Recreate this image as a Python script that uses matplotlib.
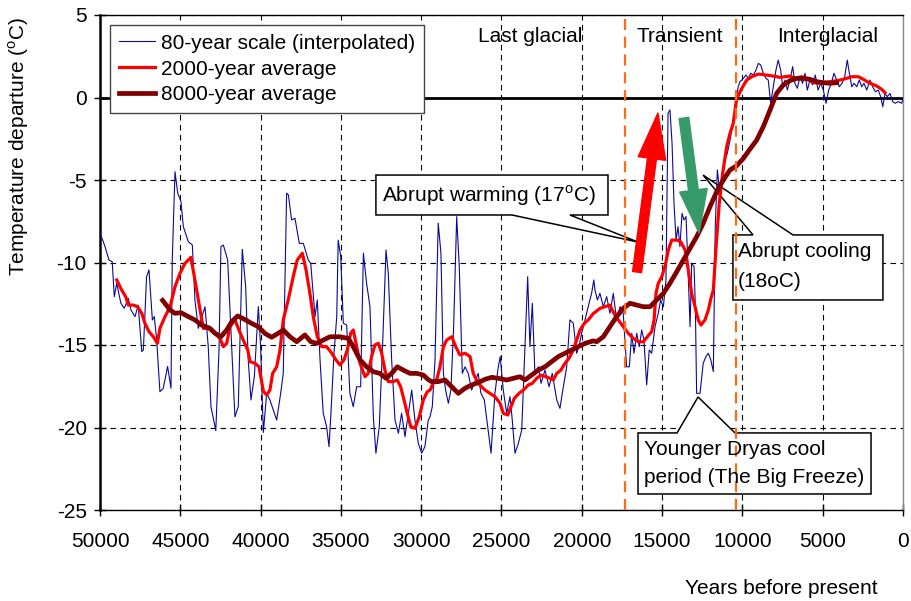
import matplotlib
matplotlib.use('Agg')
import matplotlib.pyplot as plt
from matplotlib.patches import Polygon

plt.rcParams['font.family'] = ['Liberation Sans', 'DejaVu Sans']
plt.rcParams['mathtext.fontset'] = 'custom'
plt.rcParams['mathtext.rm'] = 'Liberation Sans'

FS = 15

# 80-year scale record (years before present, temperature departure)
blue_years = [50000, 49700, 49440, 49240, 49110, 48960, 48700, 48490, 48240, 48070,
              47820, 47620, 47400, 47300, 47100, 46950, 46740, 46620, 46470, 46270,
              46060, 45790, 45580, 45500, 45330, 45160, 44960, 44810, 44500, 44250,
              44090, 43880, 43460, 43260, 43090, 42790, 42590, 42470, 42320, 42050,
              41800, 41600, 41390, 41140, 40930, 40770, 40600, 40390, 40140, 40000,
              39830, 39620, 39420, 39210, 39000, 38750, 38590, 38380, 38270, 38070,
              37860, 37590, 37340, 37030, 36880, 36610, 36470, 36300, 36100, 35890,
              35740, 35620, 35430, 35260, 35170, 35010, 34850, 34640, 34440, 34230,
              34020, 33770, 33600, 33400, 33190, 32980, 32820, 32610, 32400, 32190,
              32050, 31840, 31630, 31420, 31220, 31010, 30800, 30590, 30390, 30180,
              29970, 29770, 29560, 29450, 29310, 29140, 28940, 28770, 28620, 28480,
              28310, 28150, 27980, 27790, 27630, 27440, 27270, 27070, 26860, 26610,
              26450, 26280, 26070, 25860, 25650, 25410, 25200, 25080, 24890, 24680,
              24470, 24330, 24160, 23950, 23740, 23540, 23370, 23230, 23080, 22920,
              22710, 22540, 22290, 22040, 21840, 21560, 21360, 21150, 20940, 20740,
              20530, 20320, 20180, 20010, 19800, 19550, 19390, 19250, 19180, 19030,
              18870, 18660, 18450, 18250, 18040, 17830, 17620, 17420, 17210, 17040,
              16890, 16750, 16580, 16420, 16270, 16130, 15960, 15800, 15650, 15440,
              15240, 15090, 14920, 14760, 14630, 14510, 14380, 14260, 14130, 14010,
              13890, 13760, 13640, 13510, 13390, 13260, 13160, 13010, 12930, 12850,
              12640, 12440, 12270, 12120, 11970, 11810, 11690, 11560, 11400, 11270,
              11080, 10940, 10770, 10570, 10400, 10260, 10150, 9940, 9780, 9630,
              9480, 9320, 9150, 9010, 8860, 8700, 8530, 8390, 8240, 8080,
              7910, 7770, 7620, 7490, 7350, 7200, 7040, 6870, 6730, 6580,
              6410, 6250, 6100, 5960, 5790, 5620, 5460, 5290, 5120, 4960,
              4790, 4630, 4460, 4300, 4130, 3970, 3800, 3630, 3470, 3340,
              3190, 3050, 2880, 2720, 2570, 2430, 2260, 2050, 1890, 1720,
              1540, 1390, 1260, 1120, 980, 810, 640, 500, 290, 80, 0]
blue_temps = [-8.2, -9.0, -9.85, -9.95, -12.07, -11.26, -12.47, -12.78, -12.17, -12.88,
              -13.28, -12.58, -15.4, -15.3, -10.86, -10.45, -13.48, -13.28, -14.7, -17.83,
              -17.62, -16.3, -17.62, -9.85, -4.5, -5.8, -6.3, -7.83, -8.74, -8.94,
              -12.27, -13.99, -12.68, -15.1, -18.74, -20.19, -15.3, -9.04, -8.94, -9.85,
              -15.1, -19.35, -18.74, -9.2, -11.47, -15.9, -18.33, -16.92, -12.68, -15.1,
              -20.3, -17.93, -18.33, -18.94, -19.55, -17.93, -16.72, -5.8, -5.9, -7.42,
              -7.32, -8.84, -8.84, -9.85, -10.05, -13.28, -12.27, -15.9, -19.14, -19.95,
              -21.16, -19.14, -15.5, -13.28, -8.64, -9.65, -13.68, -13.79, -17.93, -18.74,
              -17.53, -17.53, -9.44, -11.26, -12.68, -19.35, -21.56, -19.95, -14.9, -9.24,
              -10.65, -15.9, -19.55, -20.35, -19.14, -20.56, -19.14, -17.73, -19.55, -20.96,
              -21.56, -21.16, -19.55, -19.35, -18.74, -15.9, -7.62, -9.44, -16.72, -17.73,
              -18.53, -17.73, -13.89, -7.22, -10.25, -16.72, -16.32, -16.72, -17.73, -17.12,
              -16.72, -17.93, -18.33, -19.95, -21.56, -17.93, -16.32, -15.7, -17.73, -19.14,
              -18.13, -19.55, -21.56, -20.96, -20.15, -15.1, -10.86, -15.1, -12.47, -16.72,
              -16.32, -17.32, -16.52, -17.53, -16.72, -18.33, -18.84, -17.53, -16.32, -13.48,
              -13.68, -15.5, -15.1, -14.29, -13.48, -12.47, -11.87, -11.06, -11.67, -12.27,
              -11.87, -12.68, -12.07, -13.08, -11.87, -13.48, -12.68, -13.08, -16.32, -16.32,
              -14.29, -15.5, -14.29, -15.1, -14.09, -14.7, -17.42, -15.3, -15.5, -13.89,
              -13.08, -12.27, -12.68, -11.06, -0.96, -0.76, -2.78, -6.41, -8.64, -7.83,
              -9.04, -7.02, -7.42, -7.22, -10.25, -13.89, -10.05, -10.25, -12.68, -17.93,
              -17.93, -16.11, -15.7, -15.5, -15.9, -16.61, -7.83, -4.39, -5.8, -4.8,
              -3.79, -3.38, -2.58, -1.36, -0.15, 0.65, 0.96, 1.16, 1.36, 1.16,
              1.47, 1.36, 1.67, 2.07, 1.97, 1.47, 1.16, 1.06, -0.35, 0.65,
              1.67, 2.27, 1.67, 0.65, 1.06, 0.45, 1.06, 1.87, 0.86, 0.56,
              1.26, 0.86, 1.47, 0.45, 1.06, 0.76, 1.36, 0.45, 0.86, 0.45,
              -0.35, 0.45, 0.86, 1.47, 1.06, 0.65, 0.86, 1.26, 2.27, 1.47,
              0.65, 0.86, 0.65, 1.06, 0.65, 0.86, 0.45, 1.06, 0.65, 0.35,
              0.45, 0.05, -0.56, 0.25, 0.05, 0.25, -0.25, -0.35, -0.25, -0.35, -0.05]

# 2000-year running average
red_years = [48960, 48650, 48400, 48240, 47920, 47660, 47400, 47200, 46950, 46680,
             46430, 46270, 45950, 45640, 45330, 45020, 44710, 44340, 44090, 43840,
             43570, 43260, 42840, 42530, 42320, 42110, 41910, 41600, 41350, 41080,
             40800, 40660, 40350, 40100, 39830, 39620, 39420, 39250, 39000, 38790,
             38590, 38280, 37970, 37720, 37400, 37170, 36930, 36720, 36470, 36200,
             35890, 35570, 35310, 35060, 34810, 34600, 34390, 34230, 34060, 33810,
             33500, 33300, 33090, 32880, 32670, 32460, 32260, 32050, 31740, 31490,
             31280, 31070, 30870, 30650, 30390, 30120, 29870, 29620, 29450, 29250,
             29040, 28830, 28620, 28410, 28100, 27850, 27590, 27270, 26960, 26760,
             26450, 26030, 25720, 25410, 25090, 24890, 24610, 24410, 24200, 23910,
             23640, 23330, 23080, 22810, 22540, 22250, 21980, 21780, 21560, 21300,
             21050, 20800, 20530, 20320, 20110, 19850, 19600, 19290, 18870, 18560,
             18250, 18000, 17730, 17420, 17110, 16790, 16480, 16170, 15920, 15650,
             15500, 15380, 15240, 15020, 14820, 14610, 14400, 14090, 13840, 13570,
             13370, 13160, 12950, 12750, 12580, 12330, 12120, 11960, 11810, 11640,
             11440, 11230, 10980, 10770, 10570, 10360, 10040, 9730, 9420, 9010,
             8490, 8080, 7660, 7350, 7040, 6730, 6310, 6000, 5690, 5370,
             4960, 4550, 4130, 3720, 3190, 2780, 2470, 2050, 1640, 1330, 1120]
red_temps = [-11.06, -11.67, -12.07, -12.58, -12.58, -12.68, -13.08, -13.69, -14.19, -14.5,
             -14.9, -13.99, -13.28, -12.68, -11.47, -10.65, -10.05, -9.69, -11.06, -12.47,
             -13.99, -13.99, -14.29, -14.6, -15.1, -14.9, -13.89, -13.48, -14.09, -14.7,
             -15.3, -16.01, -16.11, -16.32, -17.8, -18.03, -17.73, -16.72, -16.32, -15.3,
             -13.48, -12.27, -10.86, -9.85, -9.44, -10.45, -11.87, -13.28, -14.5, -15.1,
             -15.1, -15.5, -15.9, -16.21, -15.9, -15.3, -14.29, -14.09, -14.9, -16.11,
             -16.92, -16.72, -15.7, -15.0, -14.9, -15.5, -16.52, -17.22, -17.22, -17.12,
             -17.53, -18.33, -19.14, -19.95, -20.05, -19.35, -18.33, -17.83, -17.73, -17.32,
             -17.12, -16.32, -15.1, -14.7, -14.5, -15.1, -15.6, -15.5, -15.7, -16.72,
             -17.32, -17.73, -17.93, -18.13, -18.53, -19.14, -19.24, -18.74, -18.23, -17.93,
             -17.73, -17.42, -17.32, -17.02, -16.82, -16.92, -17.02, -17.12, -16.72, -16.52,
             -16.11, -15.81, -15.3, -14.7, -14.09, -13.69, -13.48, -13.1, -12.78, -12.68,
             -12.58, -13.08, -13.48, -13.89, -14.29, -14.6, -14.8, -14.8, -14.5, -14.19,
             -13.48, -11.87, -11.26, -10.86, -10.25, -9.24, -8.64, -8.64, -8.74, -9.24,
             -10.45, -11.87, -12.68, -13.48, -13.79, -13.48, -12.88, -12.17, -11.67, -9.04,
             -6.41, -4.6, -2.98, -2.17, -1.56, -0.1, 0.55, 1.06, 1.26, 1.42,
             1.36, 1.3, 1.22, 1.26, 1.3, 1.16, 1.26, 1.16, 0.96, 0.86,
             0.9, 0.96, 1.02, 1.1, 1.26, 1.26, 1.1, 0.86, 0.7, 0.5, 0.29]

# 8000-year running average
dark_years = [46100, 45640, 45330, 44960, 44500, 44090, 43670, 43150, 42840, 42470,
              42110, 41800, 41430, 41010, 40560, 40140, 39730, 39310, 38900, 38590,
              38170, 37750, 37240, 36880, 36510, 36100, 35680, 35060, 34540, 34230,
              33810, 33400, 32980, 32570, 32190, 31840, 31490, 31120, 30700, 30280,
              29870, 29560, 29350, 28940, 28520, 28100, 27690, 27270, 26860, 26450,
              26030, 25610, 25200, 24680, 24270, 23850, 23540, 23120, 22710, 22290,
              21880, 21460, 21050, 20630, 20220, 19800, 19290, 19070, 18660, 18250,
              17830, 17420, 17000, 16580, 16170, 15750, 15340, 14920, 14510, 14090,
              13680, 13260, 12850, 12440, 12020, 11600, 11190, 10770, 10360, 9940,
              9530, 9110, 8700, 8280, 7870, 7450, 7040, 6620, 6210, 5790,
              5370, 4960, 4550, 4130]
dark_temps = [-12.3, -12.88, -13.08, -13.04, -13.28, -13.48, -13.79, -13.99, -14.29, -14.5,
              -14.09, -13.59, -13.24, -13.44, -13.69, -13.89, -14.3, -14.53, -14.29, -14.09,
              -14.5, -14.8, -14.39, -14.8, -14.9, -14.7, -14.5, -14.5, -14.6, -15.1,
              -15.9, -16.32, -16.62, -16.72, -17.02, -16.72, -16.32, -16.52, -16.72, -16.72,
              -16.82, -17.1, -17.22, -17.22, -17.12, -17.53, -17.93, -17.62, -17.42, -17.28,
              -17.08, -16.96, -17.02, -17.12, -17.02, -16.92, -17.12, -16.82, -16.52, -16.32,
              -16.01, -15.7, -15.5, -15.3, -15.1, -14.9, -14.75, -14.8, -14.5, -13.89,
              -13.28, -12.78, -12.47, -12.58, -12.68, -12.68, -12.27, -11.87, -11.26, -10.56,
              -9.85, -9.14, -8.44, -7.62, -6.62, -5.71, -5.0, -4.39, -4.14, -3.69,
              -3.13, -2.58, -1.77, -0.76, 0.25, 0.76, 1.02, 1.16, 1.16, 1.1,
              0.96, 0.9, 0.86, 0.9]

period_bounds = [17300, 10400]
period_names = ['Last glacial', 'Transient', 'Interglacial']
period_label_x = [23230, 13890, 4670]

x_ticks = list(range(0, 50001, 5000))
y_ticks = list(range(-25, 6, 5))

fig = plt.figure(figsize=(9.11, 6.01), dpi=100)
ax = fig.add_axes([100 / 911, 91 / 601, 803 / 911, 495 / 601])

ax.set_xlim(50000, 0)
ax.set_ylim(-25, 5)
ax.set_xticks(x_ticks)
ax.set_xticklabels([str(t) for t in x_ticks])
ax.set_yticks(y_ticks)
ax.set_yticklabels([str(t) for t in y_ticks])
ax.tick_params(axis='both', direction='inout', length=9, width=1, labelsize=FS)
ax.tick_params(axis='x', pad=11)
ax.tick_params(axis='y', pad=5)
ax.grid(True, color='black', linestyle=(0, (5, 4)), linewidth=0.8, zorder=0)
for s in ax.spines.values():
    s.set_linewidth(1)
ax.spines['left'].set_linewidth(1.8)
ax.spines['right'].set_color('#888888')

ax.axhline(0, color='black', linewidth=2, zorder=1.5)

ax.plot(blue_years, blue_temps, color='#0a0a96', linewidth=0.8, zorder=3,
        label='80-year scale (interpolated)')
ax.plot(red_years, red_temps, color='#ff0000', linewidth=2.3, zorder=3.2,
        label='2000-year average')
ax.plot(dark_years, dark_temps, color='#800000', linewidth=3.4, zorder=3.4,
        label='8000-year average')

for b in period_bounds:
    ax.axvline(b, color='#ff6a13', linewidth=1.6, linestyle=(0, (5, 3)), zorder=4)

for name, x in zip(period_names, period_label_x):
    ax.text(x, 3.7, name, ha='center', va='center', fontsize=FS, zorder=5)

# arrows for abrupt warming / cooling
ax.annotate('', xy=(15260, -0.94), xytext=(16560, -10.58),
            arrowprops=dict(arrowstyle='simple,head_width=20,head_length=33,tail_width=6.5',
                            mutation_scale=1, color='#ff0000', shrinkA=0, shrinkB=0),
            zorder=6)
ax.annotate('', xy=(12700, -8.21), xytext=(13640, -1.24),
            arrowprops=dict(arrowstyle='simple,head_width=20,head_length=31,tail_width=7',
                            mutation_scale=1, color='#379a69', shrinkA=0, shrinkB=0),
            zorder=6)


def callout(left, right, top, bottom, wl, wr, tip, side):
    if side == 'bottom':
        pts = [(left, top), (right, top), (right, bottom), (wr, bottom), tip,
               (wl, bottom), (left, bottom)]
    else:
        pts = [(left, bottom), (right, bottom), (right, top), (wr, top), tip,
               (wl, top), (left, top)]
    ax.add_patch(Polygon(pts, closed=True, facecolor='white', edgecolor='black',
                         linewidth=1.1, zorder=2.5))


callout(32820, 18370, -4.70, -7.12, 24350, 20740, (16500, -8.76), 'bottom')
ax.text(32450, -5.95, r'Abrupt warming (17$^{\rm o}$C)', fontsize=FS, va='center', zorder=5)

callout(10590, 1250, -8.33, -12.27, 9340, 6850, (12450, -4.7), 'top')
ax.text(10280, -9.35, 'Abrupt cooling', fontsize=FS, va='center', zorder=5)
ax.text(10280, -11.15, '(18oC)', fontsize=FS, va='center', zorder=5)

callout(16500, 1990, -20.33, -24.03, 14070, 10460, (12760, -18.15), 'top')
ax.text(16130, -21.35, 'Younger Dryas cool', fontsize=FS, va='center', zorder=5)
ax.text(16130, -23.05, 'period (The Big Freeze)', fontsize=FS, va='center', zorder=5)

leg = ax.legend(loc='upper left', bbox_to_anchor=(0.0125, 0.98), borderaxespad=0,
                fontsize=FS, frameon=True, fancybox=False, framealpha=1,
                handlelength=1.75, labelspacing=0.33, borderpad=0.42, handletextpad=0.3)
leg.get_frame().set_edgecolor('#444444')
leg.get_frame().set_linewidth(1)
leg.set_zorder(7)

ax.set_ylabel(r'Temperature departure ($^{\rm o}$C)', fontsize=FS)
ax.yaxis.set_label_coords(-0.086, 0.735)
fig.text(781 / 911, 1 - 588 / 601, 'Years before present', ha='center', va='center',
         fontsize=FS)

plt.savefig('out.png', dpi=100)
plt.close()
